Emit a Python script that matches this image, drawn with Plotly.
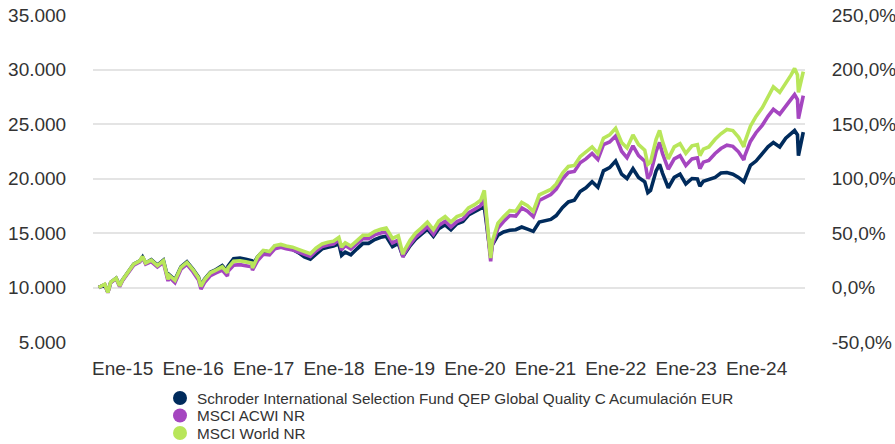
import plotly.graph_objects as go

# ---------------- data ----------------
dates = [
    "2014-08-29", "2014-09-30", "2014-10-16", "2014-10-31", "2014-11-28", "2014-12-16", "2014-12-31",
    "2015-01-30", "2015-02-27", "2015-03-31", "2015-04-14", "2015-04-30", "2015-05-29", "2015-06-30",
    "2015-07-31", "2015-08-24", "2015-08-31", "2015-09-29", "2015-10-30", "2015-11-30", "2015-12-31",
    "2016-01-29", "2016-02-11", "2016-02-29", "2016-03-31", "2016-04-29", "2016-05-31", "2016-06-27",
    "2016-06-30", "2016-07-29", "2016-08-31", "2016-09-30", "2016-10-31", "2016-11-04", "2016-11-30",
    "2016-12-30", "2017-01-31", "2017-02-28", "2017-03-31", "2017-04-28", "2017-05-31", "2017-06-30",
    "2017-07-31", "2017-08-31", "2017-09-29", "2017-10-31", "2017-11-30", "2017-12-29", "2018-01-26",
    "2018-02-09", "2018-02-28", "2018-03-29", "2018-04-30", "2018-05-31", "2018-06-29", "2018-07-31",
    "2018-08-31", "2018-09-28", "2018-10-31", "2018-11-30", "2018-12-24", "2018-12-31", "2019-01-31",
    "2019-02-28", "2019-03-29", "2019-04-30", "2019-05-31", "2019-06-28", "2019-07-31", "2019-08-30",
    "2019-09-30", "2019-10-31", "2019-11-29", "2019-12-31", "2020-01-31", "2020-02-19", "2020-02-28",
    "2020-03-23", "2020-03-31", "2020-04-30", "2020-05-29", "2020-06-30", "2020-07-31", "2020-08-31",
    "2020-09-30", "2020-10-30", "2020-11-30", "2020-12-31", "2021-01-29", "2021-02-26", "2021-03-31",
    "2021-04-30", "2021-05-31", "2021-06-30", "2021-07-30", "2021-08-31", "2021-09-30", "2021-10-29",
    "2021-11-30", "2021-12-31", "2022-01-31", "2022-02-28", "2022-03-31", "2022-04-29", "2022-05-31",
    "2022-06-16", "2022-06-30", "2022-07-29", "2022-08-16", "2022-08-31", "2022-09-30", "2022-10-31",
    "2022-11-30", "2022-12-30", "2023-01-31", "2023-02-28", "2023-03-13", "2023-03-31", "2023-04-28",
    "2023-05-31", "2023-06-30", "2023-07-31", "2023-08-31", "2023-09-29", "2023-10-27", "2023-10-31",
    "2023-11-30", "2023-12-29", "2024-01-31", "2024-02-29", "2024-03-28", "2024-04-30", "2024-05-31",
    "2024-06-28", "2024-07-16", "2024-07-31", "2024-08-05", "2024-08-30",
]

fund = [
    10000, 10250, 9580, 10480, 10850, 10200, 10700,
    11400, 12150, 12450, 12800, 12250, 12550, 12050,
    12500, 10800, 11150, 10700, 11900, 12350, 11700,
    10950, 10150, 10750, 11400, 11650, 12000, 11450,
    11950, 12650, 12700, 12600, 12450, 12050, 12800,
    13350, 13250, 13800, 13850, 13650, 13500, 13200,
    12800, 12600, 13100, 13550, 13700, 13800, 14000,
    12950, 13250, 13000, 13550, 14050, 14050, 14400,
    14600, 14700, 13750, 14050, 12850, 13050, 13850,
    14450, 14850, 15350, 14700, 15400, 15750, 15300,
    15850, 16050, 16650, 17000, 17250, 17400, 16000,
    12900, 13900, 14800, 15100, 15250, 15300, 15550,
    15350, 15150, 16000, 16150, 16250, 16600, 17350,
    17850, 18000, 18800, 19150, 19700, 19200, 20700,
    21000, 21600, 20400, 20000, 20900, 20100, 19700,
    18700, 18900, 20700, 21300, 20500, 19150, 20100,
    20400, 19500, 20000, 19950, 19300, 19750, 19900,
    20100, 20500, 20550, 20400, 20100, 19700, 19900,
    21200, 21600, 22300, 22900, 23300, 22900, 23700,
    24100, 24400, 24000, 22100, 24250,
]

acwi = [
    10000, 10280, 9520, 10450, 10800, 10080, 10620,
    11320, 12050, 12350, 12750, 12150, 12380, 11880,
    12300, 10600, 10950, 10450, 11680, 12120, 11450,
    10680, 9850, 10450, 11100, 11350, 11600, 11050,
    11500, 12050, 12100, 12000, 11900, 11600, 12450,
    13050, 13000, 13550, 13700, 13550, 13450, 13250,
    13050, 12850, 13350, 13750, 13900, 13980, 14350,
    13450, 13850, 13530, 14020, 14500, 14480, 14830,
    15000, 15100, 14100, 14350, 12800, 13120, 13980,
    14620, 15050, 15600, 14880, 15700, 16080, 15550,
    16050, 16280, 16850, 17150, 17500, 18250, 16600,
    12400, 13850, 15450, 16050, 16600, 16550, 17300,
    17000, 16500, 17980, 18300, 18530, 19030, 19980,
    20550, 20650, 21450, 21800, 22300, 21750, 23100,
    23350, 23900, 22500, 21900, 23000, 22100, 21600,
    20000, 20400, 22500, 23300, 22300, 20850, 21800,
    22100, 21200, 21800, 21900, 20900, 21500, 21650,
    22300, 22750, 23050, 22950, 22450, 21700, 22050,
    23400, 24200, 24900, 25700, 26350, 25900, 26650,
    27350, 27700, 27250, 25500, 27600,
]

world = [
    10000, 10300, 9550, 10500, 10850, 10150, 10700,
    11400, 12150, 12450, 12850, 12250, 12500, 12000,
    12450, 10750, 11100, 10650, 11850, 12300, 11650,
    10900, 10100, 10700, 11350, 11600, 11900, 11350,
    11800, 12400, 12450, 12350, 12250, 11800, 12800,
    13400, 13300, 13850, 13950, 13800, 13700, 13500,
    13300, 13100, 13600, 14000, 14150, 14250, 14600,
    13700, 14100, 13800, 14300, 14800, 14800, 15150,
    15350, 15450, 14500, 14750, 13050, 13400, 14350,
    15000, 15450, 16000, 15300, 16100, 16500, 16000,
    16500, 16700, 17300, 17600, 18000, 18900, 17100,
    12700, 14200, 15900, 16500, 17050, 17000, 17800,
    17500, 17000, 18500, 18800, 19000, 19500, 20500,
    21100, 21200, 22000, 22400, 22900, 22300, 23700,
    24000, 24600, 23300, 22800, 24000, 23100, 22600,
    21300, 21500, 23600, 24400, 23400, 21800, 22900,
    23200, 22300, 23000, 23100, 22100, 22700, 22900,
    23600, 24100, 24500, 24400, 23800, 22900, 23300,
    24800, 25700, 26500, 27500, 28400, 27900, 28700,
    29500, 30100, 29500, 27900, 29800,
]

series_names = [
    "Schroder International Selection Fund QEP Global Quality C Acumulación EUR",
    "MSCI ACWI NR",
    "MSCI World NR",
]
series_colors = ["#002b5c", "#a546c0", "#b8e65a"]

tick_dates = ["2015-01-01", "2016-01-01", "2017-01-01", "2018-01-01", "2019-01-01",
              "2020-01-01", "2021-01-01", "2022-01-01", "2023-01-01", "2024-01-01"]
tick_labels = ["Ene-15", "Ene-16", "Ene-17", "Ene-18", "Ene-19",
               "Ene-20", "Ene-21", "Ene-22", "Ene-23", "Ene-24"]

left_range = [5000, 35000]
right_tick_values = [-50, 0, 50, 100, 150, 200, 250]
right_tick_labels = ["-50,0%", "0,0%", "50,0%", "100,0%", "150,0%", "200,0%", "250,0%"]
right_range = [-50, 250]

# ---------------- figure ----------------
FONT = "Arial, 'Liberation Sans', Helvetica, sans-serif"
TXT = "#333333"
GRID = "#e4e4e4"

fig = go.Figure()
for vals, name, color in zip([fund, acwi, world], series_names, series_colors):
    fig.add_trace(go.Scatter(
        x=dates, y=vals, name=name, mode="lines",
        line=dict(color=color, width=3.6),
        showlegend=False,
    ))

# empty trace bound to the right (percentage) axis so it is drawn
fig.add_trace(go.Scatter(x=[None], y=[None], yaxis="y2", showlegend=False, hoverinfo="skip"))

fig.update_layout(
    width=895, height=444, autosize=False,
    margin=dict(l=93, r=90, t=15, b=102),
    paper_bgcolor="white", plot_bgcolor="white",
    separators=",.",
    font=dict(family=FONT, color=TXT, size=19),
    xaxis=dict(
        type="date", automargin=False,
        range=["2014-07-31", "2024-09-08"],
        tickvals=tick_dates, ticktext=tick_labels,
        showgrid=False, zeroline=False, showline=False,
        ticks="outside", ticklen=9, tickcolor="rgba(0,0,0,0)",
        tickfont=dict(size=19, color=TXT, family=FONT),
    ),
    yaxis=dict(
        range=left_range, dtick=5000, tickformat=",d", automargin=False,
        showgrid=True, gridcolor=GRID, gridwidth=2,
        zeroline=False, showline=False,
        ticks="outside", ticklen=22, tickcolor="rgba(0,0,0,0)",
        tickfont=dict(size=19, color=TXT, family=FONT),
    ),
    yaxis2=dict(
        overlaying="y", side="right", automargin=False,
        range=right_range, tickvals=right_tick_values, ticktext=right_tick_labels,
        showgrid=False, zeroline=False, showline=False,
        ticks="outside", ticklen=22, tickcolor="rgba(0,0,0,0)",
        tickfont=dict(size=19, color=TXT, family=FONT),
    ),
)

# legend drawn below the chart (circle swatches + labels)
plot_left, plot_w, plot_bottom, plot_h = 93, 712, 342, 327
legend_x_px = 180
legend_rows_px = [398, 415.5, 433]
shapes = []
annotations = []
for name, color, row in zip(series_names, series_colors, legend_rows_px):
    px = (legend_x_px - plot_left) / plot_w
    py = (plot_bottom - row) / plot_h
    shapes.append(dict(
        type="circle", xref="paper", yref="paper",
        xsizemode="pixel", ysizemode="pixel",
        xanchor=px, yanchor=py,
        x0=-7, x1=7, y0=-7, y1=7,
        fillcolor=color, line=dict(width=0),
    ))
    annotations.append(dict(
        xref="paper", yref="paper", x=(legend_x_px + 15 - plot_left) / plot_w, y=py,
        xanchor="left", yanchor="middle", showarrow=False,
        text=name, font=dict(size=15.3, color=TXT, family=FONT),
    ))
fig.update_layout(shapes=shapes, annotations=annotations)

fig.write_html(
    "out.html",
    config={"displayModeBar": False},
    post_script="document.body.style.margin='0';document.body.style.overflow='hidden';",
)
